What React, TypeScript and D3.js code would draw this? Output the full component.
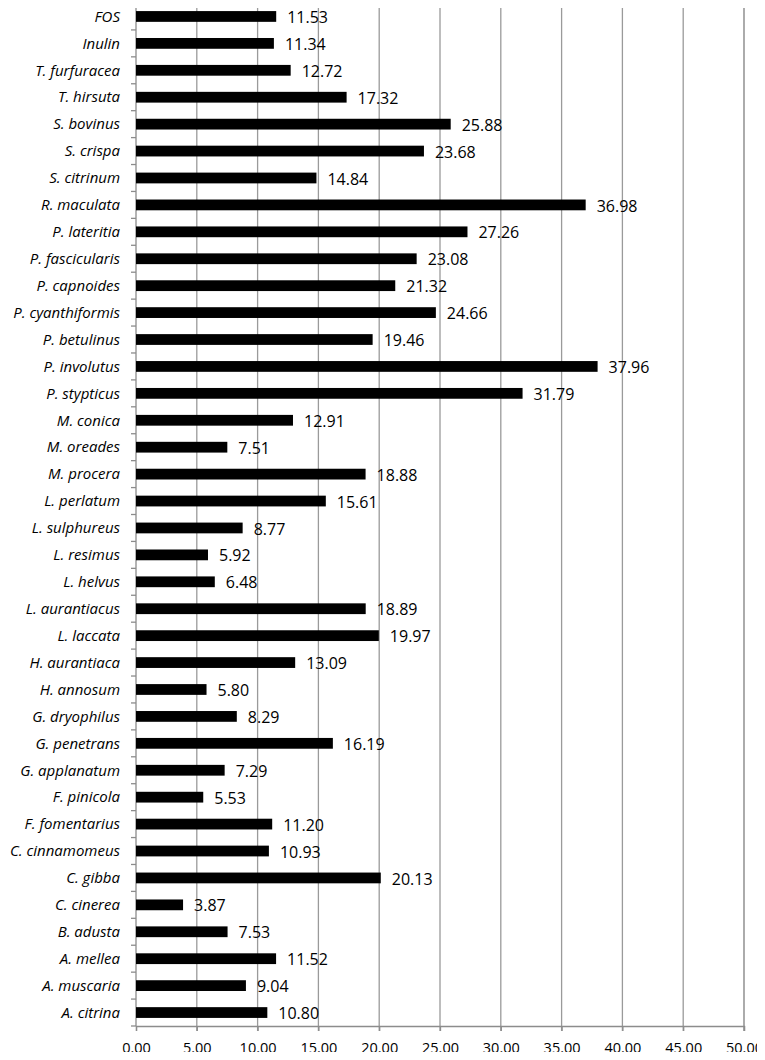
import { useEffect, useRef } from "react";
import * as d3 from "d3";

const categories = [
  "FOS", "Inulin", "T. furfuracea", "T. hirsuta", "S. bovinus", "S. crispa",
  "S. citrinum", "R. maculata", "P. lateritia", "P. fascicularis", "P. capnoides",
  "P. cyanthiformis", "P. betulinus", "P. involutus", "P. stypticus", "M. conica",
  "M. oreades", "M. procera", "L. perlatum", "L. sulphureus", "L. resimus",
  "L. helvus", "L. aurantiacus", "L. laccata", "H. aurantiaca", "H. annosum",
  "G. dryophilus", "G. penetrans", "G. applanatum", "F. pinicola", "F. fomentarius",
  "C. cinnamomeus", "C. gibba", "C. cinerea", "B. adusta", "A. mellea",
  "A. muscaria", "A. citrina",
];

const values = [
  11.53, 11.34, 12.72, 17.32, 25.88, 23.68,
  14.84, 36.98, 27.26, 23.08, 21.32,
  24.66, 19.46, 37.96, 31.79, 12.91,
  7.51, 18.88, 15.61, 8.77, 5.92,
  6.48, 18.89, 19.97, 13.09, 5.8,
  8.29, 16.19, 7.29, 5.53, 11.2,
  10.93, 20.13, 3.87, 7.53, 11.52,
  9.04, 10.8,
];

const xTicks = [0, 5, 10, 15, 20, 25, 30, 35, 40, 45, 50];

const W = 765;
const H = 1060;
const FONT = "'Open Sans', sans-serif";

export default function App() {
  const ref = useRef<SVGSVGElement>(null);

  useEffect(() => {
    const svg = d3.select(ref.current);
    svg.selectAll("*").remove();

    const left = 136, right = 744, top = 3, bottom = 1026;
    const x = d3.scaleLinear().domain([0, 50]).range([left, right]);
    const y = d3.scaleBand<string>().domain(categories).range([top, bottom]).paddingInner(0.6).paddingOuter(0.3);
    const step = y.step();
    const axisColor = "#8c8c8c";

    // grid lines
    svg.append("g")
      .selectAll("line")
      .data(xTicks.slice(1))
      .join("line")
      .attr("x1", d => x(d)).attr("x2", d => x(d))
      .attr("y1", top).attr("y2", bottom + 5)
      .attr("stroke", (d) => (d === 50 ? "#7f7f7f" : "#9a9a9a"))
      .attr("stroke-width", 1.3);

    // x axis
    const xAxis = d3.axisBottom(x).tickValues(xTicks).tickSize(5).tickFormat(d => (d as number).toFixed(2));
    svg.append("g")
      .attr("transform", `translate(0,${bottom})`)
      .call(xAxis)
      .call(g => g.select(".domain").attr("stroke", axisColor).attr("stroke-width", 1.3))
      .call(g => g.selectAll(".tick line").attr("stroke", axisColor).attr("stroke-width", 1.3))
      .call(g => g.selectAll(".tick text")
        .attr("dy", "0")
        .attr("y", 27)
        .attr("font-family", FONT)
        .attr("font-size", 14.5)
        .attr("fill", "#000"));

    // y axis line + ticks between categories
    const yg = svg.append("g");
    yg.append("line")
      .attr("x1", left).attr("x2", left)
      .attr("y1", top).attr("y2", bottom)
      .attr("stroke", axisColor).attr("stroke-width", 1.3);
    yg.selectAll("line.tk")
      .data(d3.range(categories.length + 1))
      .join("line")
      .attr("class", "tk")
      .attr("x1", left - 5).attr("x2", left)
      .attr("y1", i => top + i * step).attr("y2", i => top + i * step)
      .attr("stroke", axisColor).attr("stroke-width", 1.3);

    yg.selectAll("text")
      .data(categories)
      .join("text")
      .attr("x", left - 16)
      .attr("y", d => (y(d) as number) + y.bandwidth() / 2)
      .attr("dy", "0.35em")
      .attr("text-anchor", "end")
      .attr("font-family", FONT)
      .attr("font-style", "italic")
      .attr("font-size", 15)
      .text(d => d);

    // bars
    svg.append("g")
      .selectAll("rect")
      .data(categories)
      .join("rect")
      .attr("x", left)
      .attr("y", d => y(d) as number)
      .attr("width", (d, i) => x(values[i]) - left)
      .attr("height", y.bandwidth())
      .attr("fill", "#000");

    // value labels
    svg.append("g")
      .selectAll("text")
      .data(categories)
      .join("text")
      .attr("x", (d, i) => x(values[i]) + 11)
      .attr("y", d => (y(d) as number) + y.bandwidth() / 2 + 1)
      .attr("dy", "0.35em")
      .attr("font-family", FONT)
      .attr("font-size", 16)
      .text((d, i) => values[i].toFixed(2));
  }, []);

  return <svg ref={ref} width={W} height={H} style={{ display: "block", margin: "-8px" }} />;
}
